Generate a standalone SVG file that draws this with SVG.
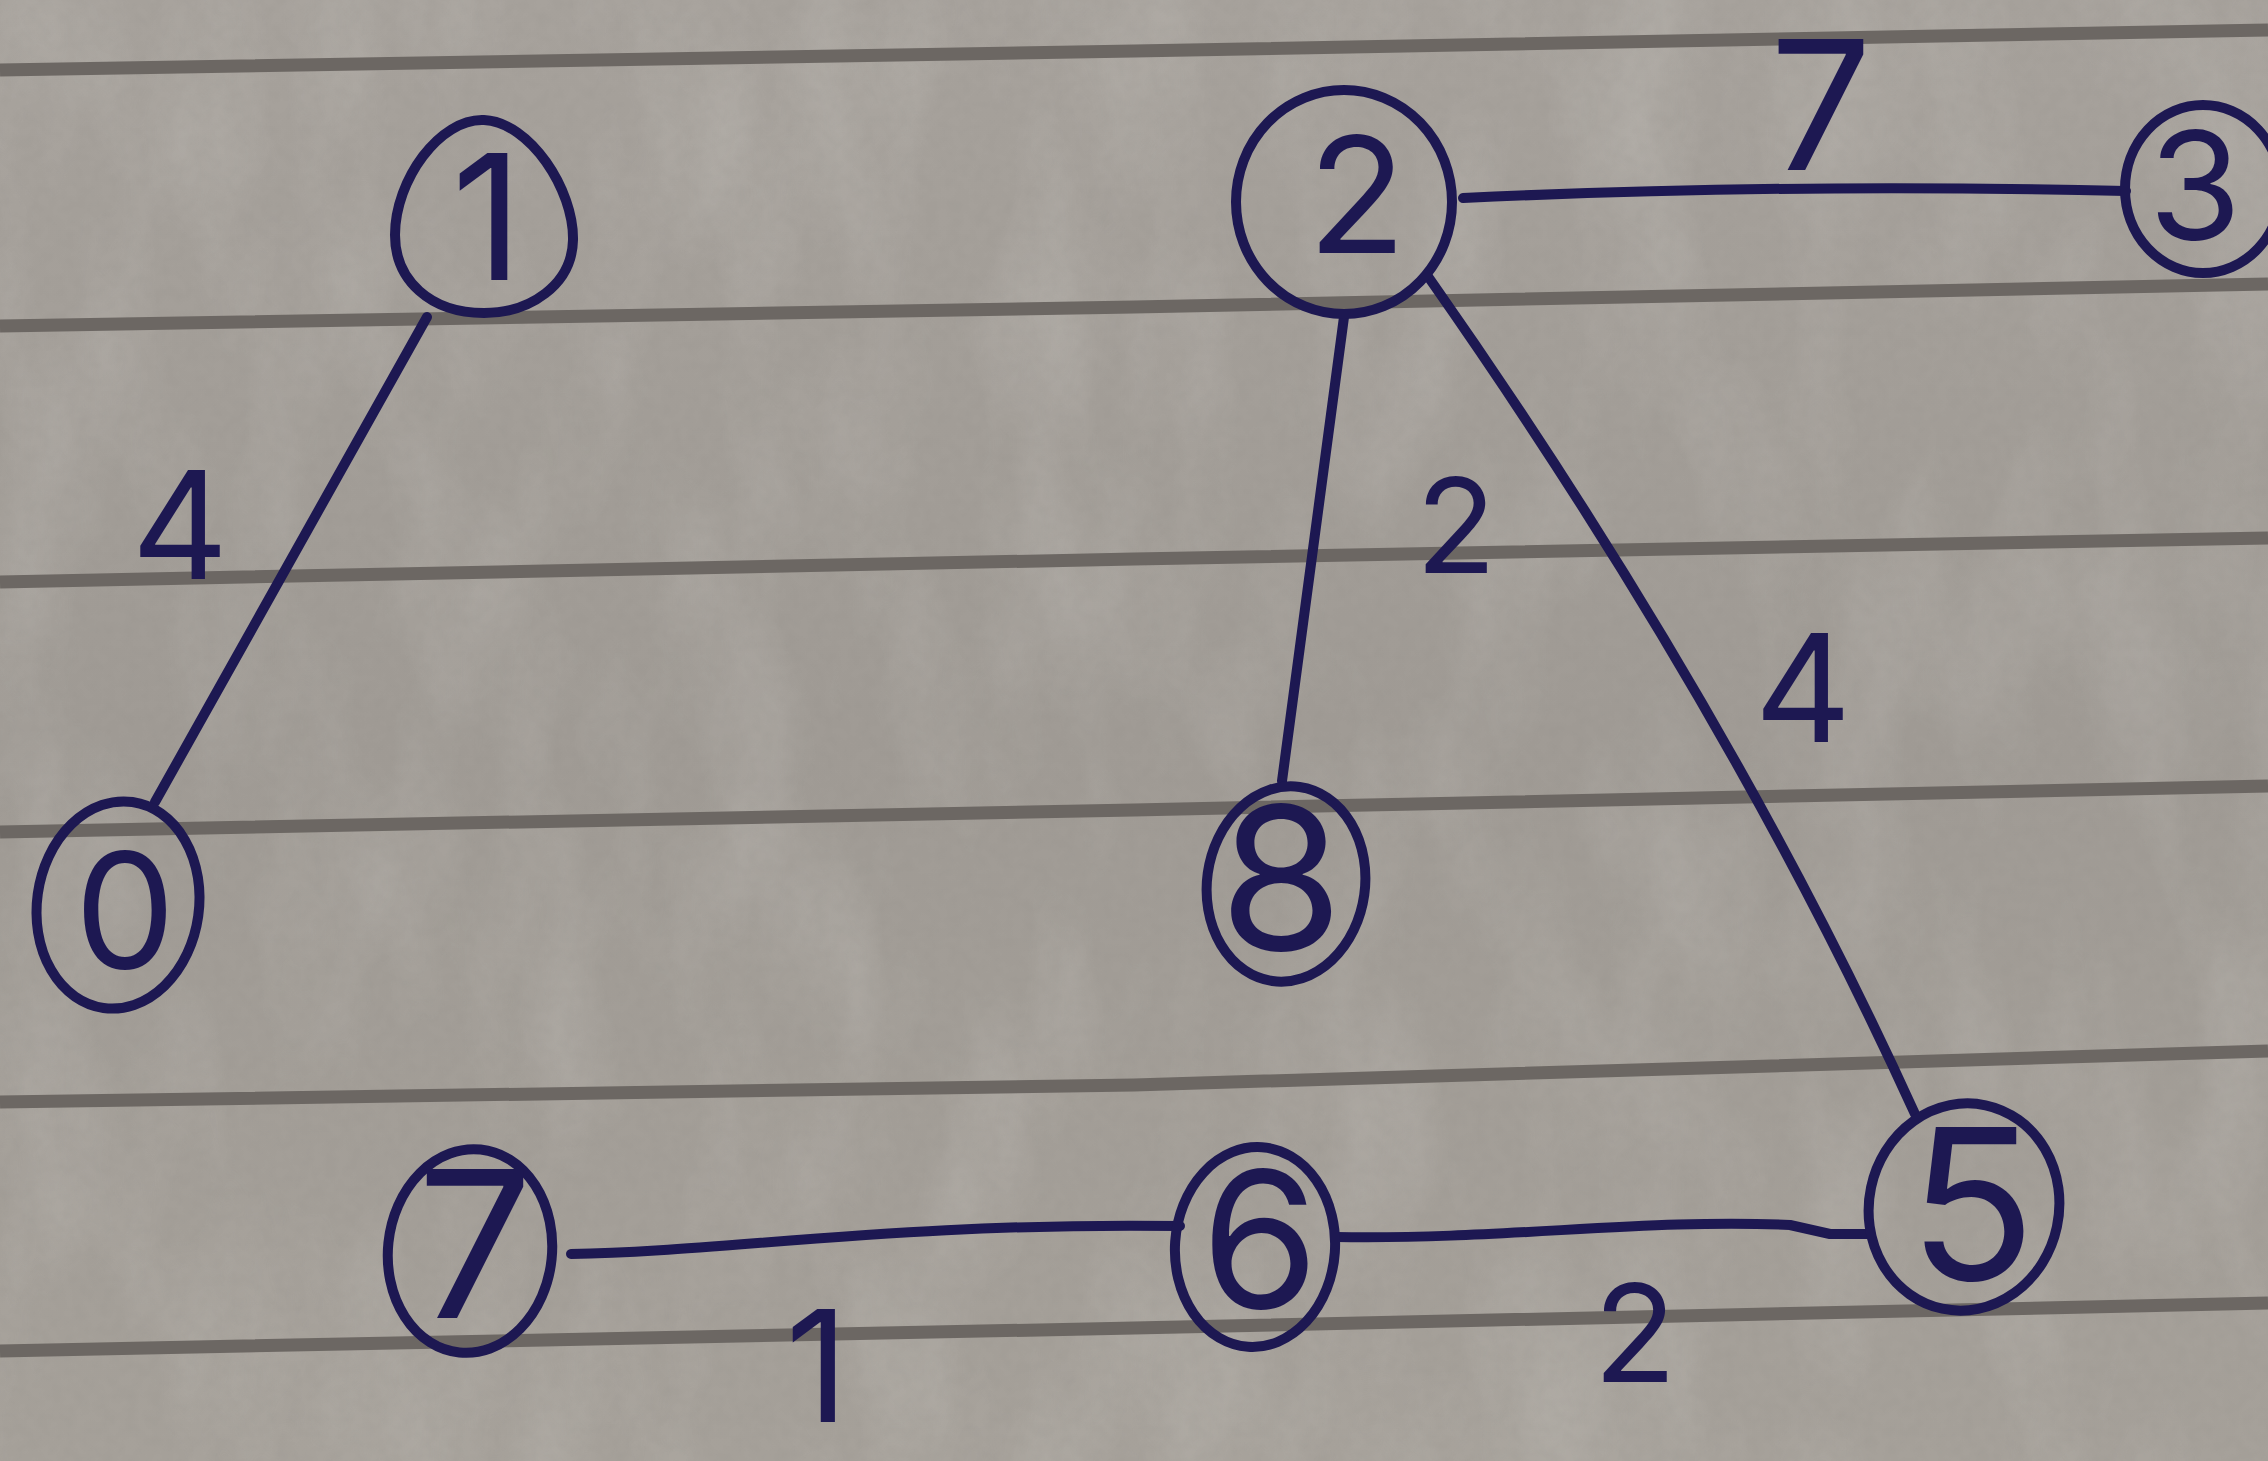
<svg xmlns="http://www.w3.org/2000/svg" width="2268" height="1461" viewBox="0 0 2268 1461">
  <defs>
    <style>
      .ink { fill: none; stroke: #1d1852; stroke-width: 10; stroke-linecap: round; stroke-linejoin: round; }
      .rule { fill: none; stroke: #6c6763; stroke-width: 13; stroke-linecap: butt; }
      .num { fill: #1d1852; font-family: "Inter", "DejaVu Sans", sans-serif; font-weight: 400; text-anchor: middle; }
    </style>
    <filter id="paperNoise" x="0" y="0" width="100%" height="100%">
      <feTurbulence type="fractalNoise" baseFrequency="0.01 0.004" numOctaves="3" seed="7"/>
      <feColorMatrix type="matrix" values="0 0 0 0 1  0 0 0 0 1  0 0 0 0 0.97  1.2 0 0 0 -0.5"/>
    </filter>
    <filter id="grain" x="0" y="0" width="100%" height="100%">
      <feTurbulence type="fractalNoise" baseFrequency="0.08" numOctaves="2" seed="3"/>
      <feColorMatrix type="matrix" values="0 0 0 0 0.25  0 0 0 0 0.24  0 0 0 0 0.22  0 0 0 -1.5 1.0"/>
    </filter>
    <linearGradient id="light" x1="0" y1="0" x2="0" y2="1">
      <stop offset="0" stop-color="#a7a29c"/>
      <stop offset="0.5" stop-color="#a09b95"/>
      <stop offset="1" stop-color="#a6a19a"/>
    </linearGradient>
  </defs>

  <g id="paper">
    <rect x="0" y="0" width="2268" height="1461" fill="url(#light)"/>
    <rect x="0" y="0" width="2268" height="1461" filter="url(#paperNoise)" opacity="0.2"/>
    <rect x="0" y="0" width="2268" height="1461" filter="url(#grain)" opacity="0.12"/>
    <path class="rule" d="M0 70 L1134 51 L2268 30"/>
    <path class="rule" d="M0 326 L1134 307 L2268 284"/>
    <path class="rule" d="M0 582 L1134 559 L2268 538"/>
    <path class="rule" d="M0 832 L1134 810 L2268 786"/>
    <path class="rule" d="M0 1102 L1134 1085 L2268 1051"/>
    <path class="rule" d="M0 1351 L1134 1328 L2268 1303"/>
  </g>

  <g id="connectors">
    <path id="e-1-0" class="ink" d="M427 317 L155 802"/>
    <path id="e-2-3" class="ink" d="M1463 198 Q1785 183 2126 191"/>
    <path id="e-2-8" class="ink" d="M1344 317 L1282 781"/>
    <path id="e-2-5" class="ink" d="M1427 275 Q1729 705 1915 1114"/>
    <path id="e-7-6" class="ink" d="M571 1254 C720 1252 900 1222 1180 1226"/>
    <path id="e-6-5" class="ink" d="M1336 1237 C1500 1240 1650 1218 1790 1225 L1830 1234 L1870 1234"/>
  </g>

  <g id="edge-labels">
    <text class="num" x="180" y="579" font-size="150">4</text>
    <text class="num" x="1821" y="170" font-size="180">7</text>
    <text class="num" x="1456" y="573" font-size="132">2</text>
    <text class="num" x="1803" y="742" font-size="150">4</text>
    <text class="num" x="817" y="1422" font-size="155">1</text>
    <text class="num" x="1635" y="1382" font-size="136">2</text>
  </g>

  <g id="node-1">
    <path class="ink" d="M484 120 C530 122 574 190 573 240 C572 285 530 313 484 313 C430 313 395 280 395 235 C395 180 440 118 484 120 Z"/>
    <text class="num" x="487" y="280" font-size="175">1</text>
  </g>
  <g id="node-2">
    <ellipse class="ink" cx="1344" cy="202" rx="108" ry="112"/>
    <text class="num" x="1357" y="253" font-size="162">2</text>
  </g>
  <g id="node-3">
    <ellipse class="ink" cx="2203" cy="189" rx="78" ry="84"/>
    <text class="num" x="2195" y="240" font-size="150">3</text>
  </g>
  <g id="node-0">
    <ellipse class="ink" cx="118" cy="905" rx="81" ry="104" transform="rotate(8 118 905)"/>
    <text class="num" x="125" y="968" font-size="160">0</text>
  </g>
  <g id="node-8">
    <ellipse class="ink" cx="1286" cy="884" rx="79" ry="98" transform="rotate(8 1286 884)"/>
    <text class="num" x="1281" y="950" font-size="200">8</text>
  </g>
  <g id="node-7">
    <ellipse class="ink" cx="470" cy="1251" rx="82" ry="102" transform="rotate(6 470 1251)"/>
    <text class="num" x="475" y="1318" font-size="205">7</text>
  </g>
  <g id="node-6">
    <ellipse class="ink" cx="1255" cy="1247" rx="80" ry="100" transform="rotate(4 1255 1247)"/>
    <text class="num" x="1260" y="1308" font-size="190">6</text>
  </g>
  <g id="node-5">
    <ellipse class="ink" cx="1964" cy="1207" rx="95" ry="104" transform="rotate(12 1964 1207)"/>
    <text class="num" x="1972" y="1280" font-size="210">5</text>
  </g>
</svg>
